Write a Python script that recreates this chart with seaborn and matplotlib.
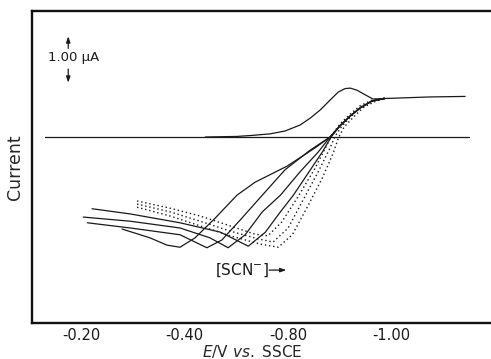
import numpy as np
import pandas as pd
import matplotlib
matplotlib.use("Agg")
import matplotlib.pyplot as plt
import seaborn as sns

# ---- data (potential E / V, current / uA) ----
baseline_E = [-0.13, -0.95]
baseline_I = [0.0, 0.0]

top_E = [-0.44, -0.50, -0.53, -0.565, -0.594, -0.623, -0.643, -0.662, -0.681, -0.697,
         -0.710, -0.720, -0.733, -0.749, -0.764, -0.787, -0.816, -0.874, -0.942]
top_I = [0.0, 0.01, 0.03, 0.06, 0.115, 0.23, 0.365, 0.52, 0.71, 0.865,
         0.93, 0.94, 0.90, 0.81, 0.73, 0.74, 0.75, 0.77, 0.78]

shared_E = [-0.700, -0.720, -0.739, -0.762, -0.787]
shared_I = [0.212, 0.404, 0.558, 0.692, 0.740]

c1_E = [-0.279, -0.333, -0.366, -0.391, -0.420, -0.459, -0.501, -0.536, -0.598, -0.652, -0.681]
c1_I = [-1.77, -1.94, -2.08, -2.12, -1.94, -1.56, -1.12, -0.87, -0.56, -0.21, 0.0]

c2_E = [-0.212, -0.295, -0.391, -0.420, -0.443, -0.472, -0.507, -0.550, -0.594, -0.643, -0.681]
c2_I = [-1.65, -1.75, -1.88, -2.02, -2.13, -1.98, -1.60, -1.12, -0.63, -0.25, 0.0]

c3_E = [-0.204, -0.295, -0.391, -0.449, -0.484, -0.517, -0.550, -0.585, -0.623, -0.658, -0.681]
c3_I = [-1.54, -1.62, -1.75, -1.94, -2.13, -1.88, -1.44, -1.12, -0.67, -0.29, 0.0]

c4_E = [-0.221, -0.295, -0.391, -0.469, -0.523, -0.556, -0.585, -0.610, -0.643, -0.666, -0.683]
c4_I = [-1.38, -1.48, -1.65, -1.83, -2.10, -1.83, -1.44, -1.12, -0.63, -0.29, 0.0]

d1_E = [-0.308, -0.372, -0.430, -0.488, -0.536, -0.561, -0.588, -0.619, -0.652, -0.673,
        -0.685, -0.700, -0.720, -0.739, -0.762, -0.787]
d1_I = [-1.23, -1.37, -1.52, -1.71, -1.87, -1.90, -1.63, -1.15, -0.60, -0.19,
        0.04, 0.25, 0.44, 0.60, 0.71, 0.75]

d2_E = [-0.308, -0.372, -0.430, -0.488, -0.542, -0.571, -0.600, -0.629, -0.658, -0.681,
        -0.691, -0.704, -0.724, -0.743, -0.766, -0.787]
d2_I = [-1.29, -1.44, -1.62, -1.81, -1.96, -2.02, -1.75, -1.21, -0.67, -0.21,
        0.02, 0.21, 0.42, 0.60, 0.71, 0.75]

d3_E = [-0.308, -0.372, -0.430, -0.488, -0.546, -0.581, -0.608, -0.639, -0.666, -0.687,
        -0.697, -0.708, -0.728, -0.747, -0.770, -0.787]
d3_I = [-1.35, -1.52, -1.71, -1.90, -2.06, -2.12, -1.88, -1.31, -0.79, -0.31,
        -0.02, 0.19, 0.40, 0.58, 0.69, 0.74]

x_ticks = [-0.2, -0.4, -0.6, -0.8]
x_tick_labels = ["-0.20", "-0.40", "-0.80", "-1.00"]
y_ticks = [-3, -2, -1, 0, 1, 2]

# ---- build a long table ----
rows = []
def add(name, kind, E, I):
    for e, i in zip(E, I):
        rows.append({"trace": name, "kind": kind, "E": e, "I": i})

add("baseline", "solid", baseline_E, baseline_I)
add("top", "solid", top_E, top_I)
add("c1", "solid", c1_E + shared_E, c1_I + shared_I)
add("c2", "solid", c2_E + shared_E, c2_I + shared_I)
add("c3", "solid", c3_E + shared_E, c3_I + shared_I)
add("c4", "solid", c4_E + shared_E, c4_I + shared_I)
add("d1", "dotted", d1_E, d1_I)
add("d2", "dotted", d2_E, d2_I)
add("d3", "dotted", d3_E, d3_I)
df = pd.DataFrame(rows)

sns.set_style("white")
plt.rcParams["font.family"] = ["DejaVu Sans"]
plt.rcParams["mathtext.fontset"] = "dejavusans"

fig = plt.figure(figsize=(4.91, 3.59), dpi=100)
ax = fig.add_axes([0.0652, 0.1003, 0.9348, 0.8691])

for name, g in df.groupby("trace", sort=False):
    kind = g["kind"].iloc[0]
    sns.lineplot(data=g, x="E", y="I", sort=False, estimator=None, ax=ax,
                 color="#1a1a1a", linewidth=0.9 if kind == "solid" else 1.0,
                 linestyle="-" if kind == "solid" else (0, (1, 2)))

ax.set_xlim(-0.105, -0.992)
ax.set_ylim(-3.577, 2.423)

ax.set_xticks(x_ticks)
ax.set_xticklabels(x_tick_labels, fontsize=10.5)
ax.set_yticks(y_ticks)
ax.set_yticklabels([])
ax.tick_params(axis="x", direction="in", length=5, width=1.0, pad=3.5, colors="#1a1a1a")
ax.tick_params(axis="y", direction="in", length=6, width=1.0, colors="#1a1a1a")

for side in ["left", "bottom", "top"]:
    ax.spines[side].set_linewidth(1.7)
    ax.spines[side].set_color("#111111")
ax.spines["right"].set_visible(False)

ax.set_xlabel(r"$\it{E}$/V $\it{vs.}$ SSCE", fontsize=11, labelpad=0)
ax.xaxis.set_label_coords(0.479, -0.063)
ax.set_ylabel("Current", fontsize=12.5, labelpad=2)

# scale bar annotation
ax.text(-0.136, 1.52, "1.00 μA", fontsize=9.5, ha="left", va="center", color="#1a1a1a")
ax.annotate("", xy=(-0.175, 1.99), xytext=(-0.175, 1.65),
            arrowprops=dict(arrowstyle="-|>,head_length=0.35,head_width=0.12", color="#1a1a1a", lw=0.9))
ax.annotate("", xy=(-0.175, 0.99), xytext=(-0.175, 1.36),
            arrowprops=dict(arrowstyle="-|>,head_length=0.35,head_width=0.12", color="#1a1a1a", lw=0.9))

# concentration arrow
ax.text(-0.459, -2.56, r"$\left[\mathrm{SCN}^{-}\right]$", fontsize=11, ha="left", va="center",
        color="#1a1a1a")
ax.annotate("", xy=(-0.602, -2.56), xytext=(-0.558, -2.56),
            arrowprops=dict(arrowstyle="-|>,head_length=0.35,head_width=0.12", color="#1a1a1a", lw=0.9))

fig.savefig("out.png", dpi=100)
